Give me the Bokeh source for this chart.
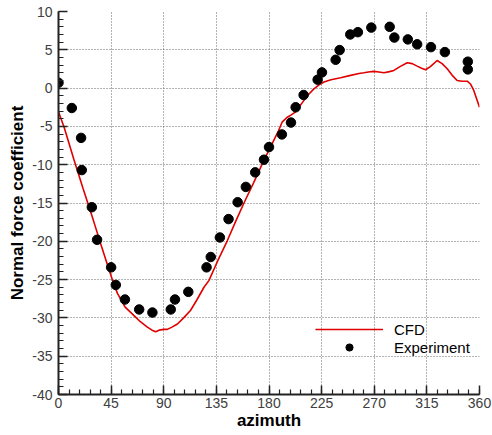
from bokeh.plotting import figure
from bokeh.models import Range1d, FixedTicker, Legend, LegendItem
from bokeh.embed import file_html
from bokeh.resources import INLINE

# Experiment data (azimuth in degrees, normal force coefficient)
exp_azimuth = [0, 11.4, 19.3, 19.9, 28.5, 33, 45, 49, 56.8, 69.0, 80.3, 96, 99.6, 111, 126.6,
               130.2, 138, 145.4, 153.2, 160.2, 168.2, 175.7, 180, 191, 198.8, 202.8, 209.6,
               221.6, 225.3, 237, 240.4, 249.5, 256, 267.5, 283.2, 287.2, 298.7, 306.7, 318.5,
               330.4, 350, 350]
exp_cn = [0.7, -2.6, -6.5, -10.7, -15.55, -19.8, -23.4, -25.7, -27.6, -28.9, -29.3, -28.9, -27.6,
          -26.6, -23.4, -22.05, -19.5, -17.1, -14.9, -12.9, -11.0, -9.35, -7.7, -6.05, -4.5, -2.5,
          -0.9, 1.1, 2.05, 3.7, 4.96, 7.0, 7.3, 7.9, 8.0, 6.6, 6.36, 5.72, 5.35, 4.7, 3.45, 2.44]

# CFD data
cfd_azimuth = [0, 4.8, 13.3, 21, 29.9, 36, 41.9, 46, 50.4, 57, 64.6, 70, 76, 80, 83.1, 86, 90,
               93.1, 97, 101.7, 107, 113, 118.5, 124.4, 128.7, 136, 144.4, 151.5, 158.6, 167,
               175.7, 180, 184.2, 188, 191.4, 195.7, 199, 202.8, 206, 209.9, 214, 218.4, 222.5,
               227, 233, 241.2, 249.8, 256.9, 261.2, 265, 269.7, 274, 278.3, 283, 286.8, 292,
               298.2, 302.5, 306.7, 310.5, 313.9, 318, 323.8, 328, 332.4, 336.5, 340.9, 345,
               349.5, 352.5, 355.1, 360]
cfd_cn = [-3.1, -5.1, -9.4, -13.1, -17.3, -20.3, -23.1, -25.0, -26.8, -28.6, -29.7, -30.5, -31.2,
          -31.6, -31.8, -31.6, -31.5, -31.5, -31.2, -30.8, -30.0, -29.0, -27.6, -26.0, -25.1,
          -22.6, -19.9, -17.4, -15.0, -12.3, -9.4, -8.1, -6.8, -5.6, -4.4, -3.8, -3.5, -3.1,
          -2.4, -1.6, -0.8, -0.1, 0.4, 0.8, 1.1, 1.35, 1.66, 1.9, 2.0, 2.1, 2.18, 2.1, 2.0,
          2.15, 2.31, 2.8, 3.3, 3.2, 2.87, 2.6, 2.4, 2.8, 3.6, 3.2, 2.53, 1.7, 1.0, 0.9, 0.9,
          0.5, -0.3, -2.5]

x_ticks = [0, 45, 90, 135, 180, 225, 270, 315, 360]
y_ticks = [-40, -35, -30, -25, -20, -15, -10, -5, 0, 5, 10]
x_tick_labels = [str(v) for v in x_ticks]
y_tick_labels = [str(v) for v in y_ticks]

FONT = "Liberation Sans"

p = figure(width=492, height=435, output_backend="svg", toolbar_location=None,
           x_range=Range1d(0, 360), y_range=Range1d(-40, 10),
           frame_width=421, frame_height=383,
           min_border_left=58, min_border_right=13, min_border_top=11, min_border_bottom=41)
p.outline_line_color = None
p.background_fill_color = "white"
p.border_fill_color = "white"

xminor = [v for v in range(0, 361, 9)]
yminor = [v for v in range(-40, 11, 1)]
p.xaxis.ticker = FixedTicker(ticks=x_ticks, minor_ticks=xminor)
p.yaxis.ticker = FixedTicker(ticks=y_ticks, minor_ticks=yminor)
p.xaxis.major_label_overrides = dict(zip(x_ticks, x_tick_labels))
p.yaxis.major_label_overrides = dict(zip(y_ticks, y_tick_labels))

for ax in (p.xaxis, p.yaxis):
    ax.axis_line_width = 2
    ax.axis_line_color = "#222222"
    ax.major_tick_line_color = "#222222"
    ax.minor_tick_line_color = "#222222"
    ax.major_tick_line_width = 1.5
    ax.minor_tick_line_width = 1.2
    ax.major_tick_in = 9
    ax.major_tick_out = 0
    ax.minor_tick_in = 5
    ax.minor_tick_out = 0
    ax.major_label_text_font = FONT
    ax.major_label_text_font_size = "14px"
    ax.major_label_text_color = "#404040"
    ax.axis_label_text_font = FONT
    ax.axis_label_text_font_size = "17px"
    ax.axis_label_text_font_style = "bold"
    ax.axis_label_text_color = "black"

p.xaxis.axis_label = "azimuth"
p.yaxis.axis_label = "Normal force coefficient"
p.xaxis.major_label_standoff = 3
p.yaxis.major_label_standoff = 6
p.xaxis.axis_label_standoff = 0
p.yaxis.axis_label_standoff = 2

p.grid.grid_line_color = "#666666"
p.grid.grid_line_dash = "1 2"
p.grid.grid_line_width = 1
p.xgrid.ticker = FixedTicker(ticks=x_ticks)
p.ygrid.ticker = FixedTicker(ticks=y_ticks)

cfd = p.line(cfd_azimuth, cfd_cn, line_color="#e00000", line_width=1.6)
exp = p.scatter(exp_azimuth, exp_cn, marker="circle", size=9.5, fill_color="black",
                line_color="black")

legend = Legend(items=[LegendItem(label="CFD", renderers=[cfd]),
                       LegendItem(label="Experiment", renderers=[exp])],
                location=(257, 38), orientation="vertical")
legend.glyph_width = 68
legend.glyph_height = 18
legend.label_height = 18
legend.label_standoff = 11
legend.spacing = 0
legend.padding = 0
legend.margin = 0
legend.border_line_color = None
legend.background_fill_alpha = 0
legend.label_text_font = FONT
legend.label_text_font_size = "15px"
legend.label_text_color = "black"
p.add_layout(legend, "center")

open("out.html", "w").write(file_html(p, INLINE))
